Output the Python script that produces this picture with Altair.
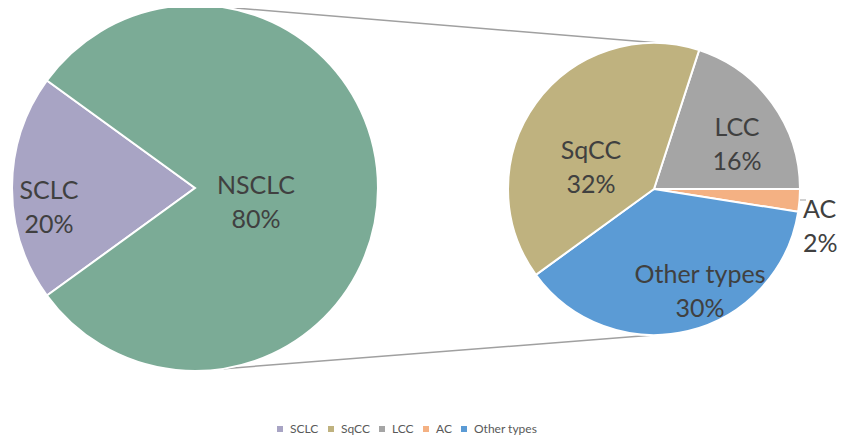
import math
import altair as alt
import pandas as pd

# ---- data ----
main_cats = ["SCLC", "NSCLC"]
main_vals = [20, 80]
sub_cats = ["LCC", "AC", "Other types", "SqCC"]
sub_vals = [16, 2, 30, 32]
legend_cats = ["SCLC", "SqCC", "LCC", "AC", "Other types"]

colors = {
    "SCLC": "#A8A4C4",
    "SqCC": "#BFB27F",
    "LCC": "#A5A5A5",
    "AC": "#F4B183",
    "Other types": "#5B9BD5",
    "NSCLC": "#7BAB96",
}

# ---- layout (page pixel units) ----
L_CX, L_CY, L_R = 195, 188, 183
R_CX, R_CY, R_R = 654, 189, 146
L_START = 234.0   # degrees, clockwise from top
R_START = 18.0

label_pos = {
    "SCLC": (49, 191, "center"),
    "NSCLC": (256, 186, "center"),
    "SqCC": (591, 151, "center"),
    "LCC": (737, 128, "center"),
    "AC": (803, 210, "left"),
    "Other types": (700, 275, "center"),
}


def pie_frame(cats, vals, start_deg, cx, cy):
    total = sum(vals)
    rows = []
    a = math.radians(start_deg)
    for c, v in zip(cats, vals):
        span = 2 * math.pi * v / total
        rows.append({"cat": c, "val": v, "t0": a, "t1": a + span, "cx": cx, "cy": cy})
        a += span
    return pd.DataFrame(rows)


left_df = pie_frame(main_cats, main_vals, L_START, L_CX, L_CY)
right_df = pie_frame(sub_cats, sub_vals, R_START, R_CX, R_CY)


def pt(cx, cy, r, deg):
    t = math.radians(deg)
    return cx + r * math.sin(t), cy - r * math.cos(t)


# connector lines between the two pies
lt = pt(L_CX, L_CY, L_R, 8)
rt = pt(R_CX, R_CY, R_R, 2)
lb = pt(L_CX, L_CY, L_R, 171)
rb = pt(R_CX, R_CY, R_R, 180)
conn_df = pd.DataFrame([
    {"x": lt[0], "y": lt[1], "x2": rt[0], "y2": rt[1]},
    {"x": lb[0], "y": lb[1], "x2": rb[0], "y2": rb[1]},
])
leader_df = pd.DataFrame([{"x": 800, "y": 200, "x2": 806, "y2": 200}])

lab_rows = []
for c, v in list(zip(main_cats, main_vals)) + list(zip(sub_cats, sub_vals)):
    x, y, al = label_pos[c]
    lab_rows.append({"cat": c, "txt": f"{c}\n{v}%", "x": x, "y": y, "align": al})
lab_df = pd.DataFrame(lab_rows)

W, H = 829, 433
xs = alt.Scale(domain=[8, 8 + W], nice=False, zero=False)
ys = alt.Scale(domain=[8, 8 + H], nice=False, zero=False, reverse=True)

dom = legend_cats + ["NSCLC"]
color = alt.Color(
    "cat:N",
    scale=alt.Scale(domain=dom, range=[colors[c] for c in dom]),
    legend=alt.Legend(
        values=legend_cats, title=None, orient="none", direction="horizontal",
        legendX=266, legendY=415, symbolType="square", symbolSize=36,
        symbolStrokeWidth=0, labelFontSize=12, labelColor="#595959",
        labelFont="Lato", columnPadding=6, symbolOffset=0, labelOffset=4,
    ),
)

def pie(df, r):
    return alt.Chart(df).mark_arc(radius=r, stroke="white", strokeWidth=2).encode(
        x=alt.X("cx:Q", scale=xs, axis=None),
        y=alt.Y("cy:Q", scale=ys, axis=None),
        theta=alt.Theta("t0:Q", scale=None),
        theta2="t1:Q",
        color=color,
    )

conn = alt.Chart(conn_df).mark_rule(color="#A0A0A0", strokeWidth=1.5).encode(
    x=alt.X("x:Q", scale=xs, axis=None), y=alt.Y("y:Q", scale=ys, axis=None),
    x2="x2:Q", y2="y2:Q",
)
leader = alt.Chart(leader_df).mark_rule(color="#A0A0A0", strokeWidth=1).encode(
    x=alt.X("x:Q", scale=xs, axis=None), y=alt.Y("y:Q", scale=ys, axis=None),
    x2="x2:Q", y2="y2:Q",
)

def labels(al):
    d = lab_df[lab_df["align"] == al]
    return alt.Chart(d).mark_text(
        lineBreak="\n", fontSize=25, lineHeight=34, font="Lato",
        color="#404040", align=al, baseline="middle",
    ).encode(
        x=alt.X("x:Q", scale=xs, axis=None), y=alt.Y("y:Q", scale=ys, axis=None),
        text="txt:N",
    )

chart = alt.layer(
    conn, pie(left_df, L_R), pie(right_df, R_R), leader, labels("center"), labels("left")
).properties(
    width=W, height=H, autosize=alt.AutoSizeParams(type="none"), padding=0,
).configure_view(stroke=None)

chart.save("out.html", embed_options={"renderer": "svg", "actions": False})
